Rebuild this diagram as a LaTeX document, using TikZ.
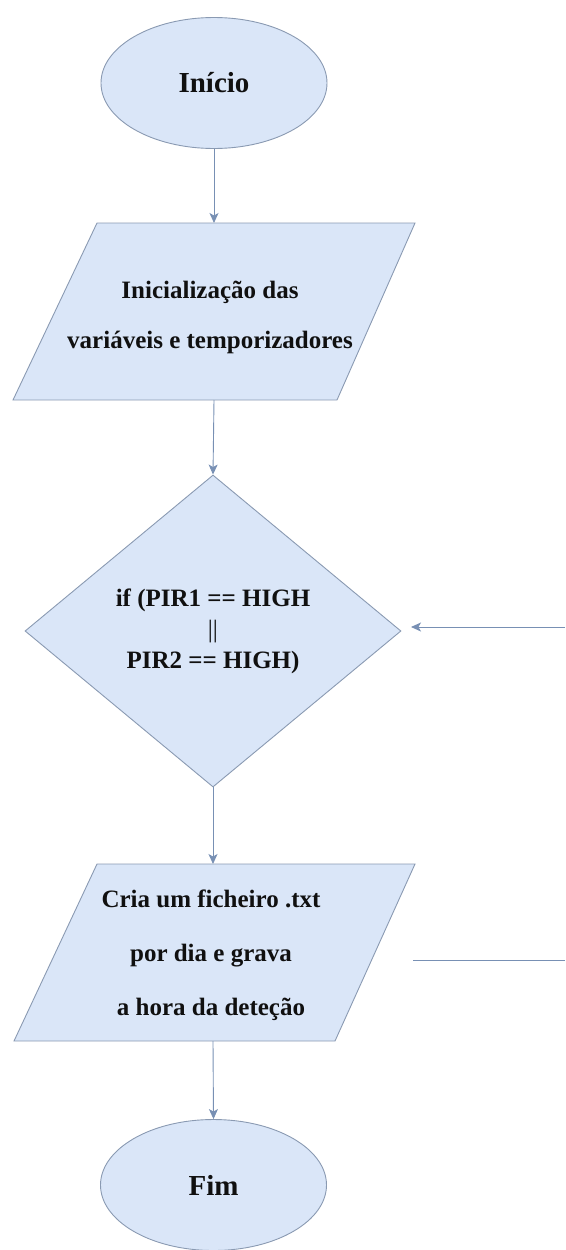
\documentclass[tikz,border=0pt]{standalone}
\usepackage{fontspec}
\setmainfont{Liberation Serif}
\usetikzlibrary{shapes.geometric,arrows.meta}
\definecolor{boxfill}{HTML}{DAE6F8}
\definecolor{boxline}{HTML}{8A9AB2}
\definecolor{arrowcol}{HTML}{7890B4}
\definecolor{txtcol}{HTML}{101010}
\begin{document}
\begin{tikzpicture}[x=1pt,y=-1pt,
  shapebox/.style={draw=boxline,fill=boxfill,line width=0.9pt},
  txt/.style={text=txtcol,align=center,font=\bfseries\fontsize{25}{30}\selectfont},
  term/.style={shapebox,ellipse,minimum width=226pt,minimum height=131pt,inner sep=0pt},
  decision/.style={shapebox,diamond,minimum width=376pt,minimum height=312pt,inner sep=0pt,aspect=1.2},
  flow/.style={draw=arrowcol,line width=0.9pt,-{Stealth[length=10pt,width=9pt,inset=2.5pt]}},
  plainline/.style={draw=arrowcol,line width=0.9pt}]
\useasboundingbox (0,0) rectangle (565,1250);

% Inicio
\node[term,txt,font=\bfseries\fontsize{29}{34}\selectfont] (start) at (214,83) {Início};

% Parallelogram 1
\draw[shapebox] (97,223) -- (415,223) -- (337,400) -- (13,400) -- cycle;
\coordinate (b1top) at (214,223);
\coordinate (b1bot) at (214,400);
\node[txt,font=\bfseries\fontsize{25}{50}\selectfont] (init) at (210,317) {Inicialização das\\variáveis e temporizadores};

% Decision
\node[decision,txt,font=\bfseries\fontsize{25}{31}\selectfont] (cond) at (213,631) {if (PIR1 == HIGH\\{\mdseries ||}\\PIR2 == HIGH)};

% Parallelogram 2
\draw[shapebox] (97,864) -- (415,864) -- (335,1041) -- (14,1041) -- cycle;
\coordinate (b2top) at (213,864);
\coordinate (b2bot) at (213,1041);
\node[txt,font=\bfseries\fontsize{25}{54}\selectfont] (save) at (211,955) {Cria um ficheiro .txt\\por dia e grava\\a hora da deteção};

% Fim
\node[term,txt,font=\bfseries\fontsize{29}{34}\selectfont] (stop) at (213.5,1185) {Fim};

% connectors
\draw[flow] (start.south) -- (b1top);
\draw[flow] (b1bot) -- (cond.north);
\draw[flow] (cond.south) -- (b2top);
\draw[flow] (b2bot) -- (stop.north);

% loop stubs on the right
\coordinate (loopA) at (413,960);
\coordinate (loopB) at (565,960);
\draw[plainline] (loopA) -- (loopB);
\coordinate (loopC) at (565,627);
\coordinate (loopD) at (411,627);
\draw[flow] (loopC) -- (loopD);
\end{tikzpicture}
\end{document}
